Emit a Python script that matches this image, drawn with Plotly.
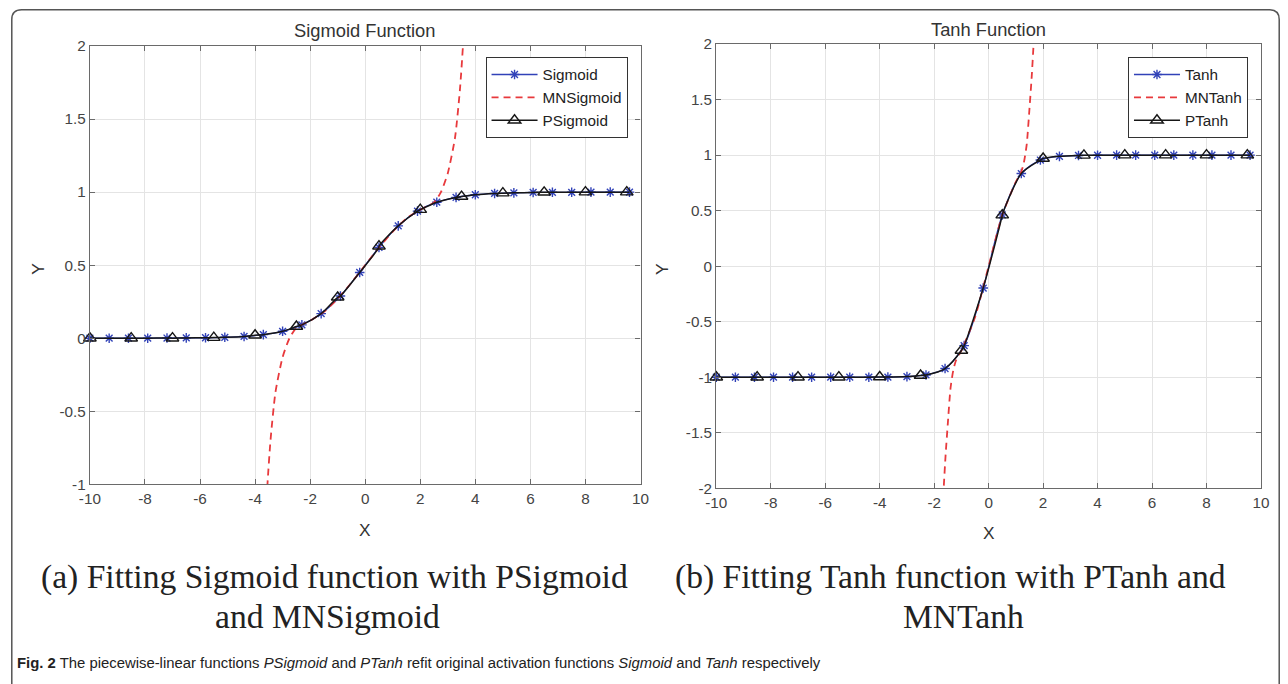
import plotly.graph_objects as go

# ---------------- data ----------------
star_x = [-10.0, -9.3, -8.6, -7.9, -7.2, -6.5, -5.8, -5.1, -4.4, -3.7, -3.0, -2.3, -1.6, -0.9,
          -0.2, 0.5, 1.2, 1.9, 2.6, 3.3, 4.0, 4.7, 5.4, 6.1, 6.8, 7.5, 8.2, 8.9, 9.6]
sigmoid_y = [0.000, 0.000, 0.000, 0.000, 0.001, 0.002, 0.003, 0.006, 0.012, 0.024, 0.047, 0.091,
             0.168, 0.289, 0.450, 0.622, 0.769, 0.870, 0.931, 0.964, 0.982, 0.991, 0.995, 0.998,
             0.999, 0.999, 1.000, 1.000, 1.000]
tanh_y = [-1.000, -1.000, -1.000, -1.000, -1.000, -1.000, -1.000, -1.000, -1.000, -0.999, -0.995,
          -0.980, -0.922, -0.716, -0.197, 0.462, 0.834, 0.956, 0.989, 0.997, 0.999, 1.000, 1.000,
          1.000, 1.000, 1.000, 1.000, 1.000, 1.000]

tri_x = [-10.0, -8.5, -7.0, -5.5, -4.0, -2.5, -1.0, 0.5, 2.0, 3.5, 5.0, 6.5, 8.0, 9.5]
psigmoid_y = [0.00, 0.00, 0.00, 0.004, 0.02, 0.08, 0.28, 0.63, 0.88, 0.97, 0.993, 0.999, 1.00, 1.00]
ptanh_y = [-1.00, -1.00, -1.00, -1.00, -0.998, -0.985, -0.76, 0.46, 0.97, 0.998, 1.00, 1.00, 1.00, 1.00]

mnsig_x = [-3.64, -3.55, -3.44, -3.26, -3.0, -2.75, -2.5, -2.0, -1.5, -1.0, -0.5, 0.0,
           0.5, 1.0, 1.5, 2.0, 2.5, 2.75, 3.0, 3.26, 3.44, 3.55, 3.64]
mnsig_y = [-1.35, -1.0, -0.70, -0.37, -0.13, 0.0, 0.07, 0.12, 0.18, 0.27, 0.38, 0.50,
           0.62, 0.73, 0.82, 0.88, 0.93, 1.0, 1.13, 1.37, 1.70, 2.0, 2.35]

mntanh_x = [-1.70, -1.65, -1.58, -1.5, -1.4, -1.3, -1.2, -1.0, -0.5, 0.0,
            0.5, 1.0, 1.2, 1.3, 1.4, 1.5, 1.58, 1.65, 1.70]
mntanh_y = [-2.3, -2.0, -1.70, -1.42, -1.10, -0.94, -0.85, -0.76, -0.46, 0.0,
            0.46, 0.76, 0.85, 0.94, 1.10, 1.42, 1.70, 2.0, 2.3]

x_ticks = [-10, -8, -6, -4, -2, 0, 2, 4, 6, 8, 10]
x_ticktext = ["-10", "-8", "-6", "-4", "-2", "0", "2", "4", "6", "8", "10"]
y1_ticks = [-1, -0.5, 0, 0.5, 1, 1.5, 2]
y1_ticktext = ["-1", "-0.5", "0", "0.5", "1", "1.5", "2"]
y2_ticks = [-2, -1.5, -1, -0.5, 0, 0.5, 1, 1.5, 2]
y2_ticktext = ["-2", "-1.5", "-1", "-0.5", "0", "0.5", "1", "1.5", "2"]

# ---------------- layout helpers ----------------
# The page keeps an 8px body margin, and the whole page (figure + margins)
# ends up scaled into the 1288x684 picture.  Positions below are given in
# picture pixels and mapped back to figure paper coordinates.
W, H = 1288, 684
M = 8
SX = (W + 2 * M) / W
SY = (H + 2 * M) / H
FS = 1.018  # font compensation for the down-scaling

BLUE = "#3142b8"
RED = "#e8393c"
BLACK = "#161616"
FONT = "Liberation Sans"


def px(x):
    return (x * SX - M) / W


def py(y):
    return 1 - (y * SY - M) / H


def merged(xa, ya, xb, yb):
    pts = sorted(list(zip(xa, ya)) + list(zip(xb, yb)))
    return [p[0] for p in pts], [p[1] for p in pts]


fig = go.Figure()


def add_panel(xa, ya, legend, f_name, f_y, mn_name, mn_x, mn_y, p_name, p_y):
    fig.add_trace(go.Scatter(
        x=star_x, y=f_y, name=f_name, mode="lines+markers", xaxis=xa, yaxis=ya, legend=legend,
        line=dict(color=BLUE, width=1.3, shape="spline", smoothing=0.8),
        marker=dict(symbol="asterisk-open", size=8, color=BLUE, line=dict(color=BLUE, width=1.4)),
        cliponaxis=False))
    fig.add_trace(go.Scatter(
        x=mn_x, y=mn_y, name=mn_name, mode="lines", xaxis=xa, yaxis=ya, legend=legend,
        line=dict(color=RED, width=1.8, dash="7px,5px", shape="spline", smoothing=0.6)))
    lx, ly = merged(star_x, f_y, tri_x, p_y)
    fig.add_trace(go.Scatter(
        x=lx, y=ly, mode="lines", xaxis=xa, yaxis=ya, showlegend=False, hoverinfo="skip",
        line=dict(color=BLACK, width=1.5, shape="spline", smoothing=0.8)))
    fig.add_trace(go.Scatter(
        x=tri_x, y=p_y, mode="markers", xaxis=xa, yaxis=ya, showlegend=False,
        marker=dict(symbol="triangle-up-open", size=11, color=BLACK, line=dict(color=BLACK, width=1.4)),
        cliponaxis=False))
    fig.add_trace(go.Scatter(
        x=[None], y=[None], name=p_name, mode="lines+markers", xaxis=xa, yaxis=ya, legend=legend,
        line=dict(color=BLACK, width=1.5),
        marker=dict(symbol="triangle-up-open", size=11, color=BLACK, line=dict(color=BLACK, width=1.4))))


add_panel("x", "y", "legend", "Sigmoid", sigmoid_y, "MNSigmoid", mnsig_x, mnsig_y, "PSigmoid", psigmoid_y)
add_panel("x2", "y2", "legend2", "Tanh", tanh_y, "MNTanh", mntanh_x, mntanh_y, "PTanh", ptanh_y)

axis_common = dict(
    showgrid=True, gridcolor="#e4e4e4", gridwidth=1, zeroline=False,
    showline=True, linecolor="#6a6a6a", linewidth=1.3, mirror="ticks",
    ticks="inside", ticklen=5, tickcolor="#6a6a6a", tickwidth=1,
    tickfont=dict(family=FONT, size=15 * FS, color="#444444"),
)

legend_common = dict(xanchor="right", yanchor="top", bgcolor="white", bordercolor="#333333",
                     borderwidth=1, font=dict(family=FONT, size=15 * FS, color="#222222"),
                     tracegroupgap=0, itemwidth=46)

fig.update_layout(
    width=W, height=H, margin=dict(l=0, r=0, t=0, b=0),
    paper_bgcolor="white", plot_bgcolor="white",
    xaxis=dict(domain=[px(87), px(639)], range=[-10, 10], anchor="y",
               tickmode="array", tickvals=x_ticks, ticktext=x_ticktext, **axis_common),
    yaxis=dict(domain=[py(484), py(45)], range=[-1, 2], anchor="x",
               tickmode="array", tickvals=y1_ticks, ticktext=y1_ticktext, **axis_common),
    xaxis2=dict(domain=[px(715), px(1261)], range=[-10, 10], anchor="y2",
                tickmode="array", tickvals=x_ticks, ticktext=x_ticktext, **axis_common),
    yaxis2=dict(domain=[py(488), py(43)], range=[-2, 2], anchor="x2",
                tickmode="array", tickvals=y2_ticks, ticktext=y2_ticktext, **axis_common),
    legend=dict(x=px(626), y=py(56), **legend_common),
    legend2=dict(x=px(1248), y=py(56), **legend_common),
    showlegend=True,
)

ann = []


def text(x, y, s, size, family=FONT, color="#333333", xanchor="center", angle=0):
    ann.append(dict(x=px(x), y=py(y), xref="paper", yref="paper", text=s, showarrow=False,
                    xanchor=xanchor, yanchor="middle", textangle=angle,
                    font=dict(family=family, size=size * FS, color=color)))


text(362, 29, "Sigmoid Function", 18)
text(988, 28, "Tanh Function", 18)
text(363, 530, "X", 17)
text(988, 533, "X", 17)
text(35, 268, "Y", 17, angle=-90)
text(660, 268, "Y", 17, angle=-90)
SERIF = "Liberation Serif"
text(332, 577, "(a) Fitting Sigmoid function with PSigmoid", 33, SERIF, "#222222")
text(325, 617, "and MNSigmoid", 33, SERIF, "#222222")
text(950, 577, "(b) Fitting Tanh function with PTanh and", 33, SERIF, "#222222")
text(963, 617, "MNTanh", 33, SERIF, "#222222")
text(12, 663, "<b>Fig. 2</b> The piecewise-linear functions <i>PSigmoid</i> and <i>PTanh</i> refit "
              "original activation functions <i>Sigmoid</i> and <i>Tanh</i> respectively",
     14.6, FONT, "#222222", xanchor="left")
fig.update_layout(annotations=ann)

# rounded frame around the figure (as close to the page edge as the figure allows)
r = 10 / W
fx0, fx1 = 0.8 / W, 1 - 0.8 / W
fy_top = 1 - 0.8 / H
fy_bot = -0.1
path = (f"M {fx0},{fy_bot} L {fx0},{fy_top - r * W / H} Q {fx0},{fy_top} {fx0 + r},{fy_top} "
        f"L {fx1 - r},{fy_top} Q {fx1},{fy_top} {fx1},{fy_top - r * W / H} L {fx1},{fy_bot}")
fig.add_shape(type="path", path=path, xref="paper", yref="paper",
              line=dict(color="#555555", width=1.5), layer="above")

fig.write_html("out.html")
